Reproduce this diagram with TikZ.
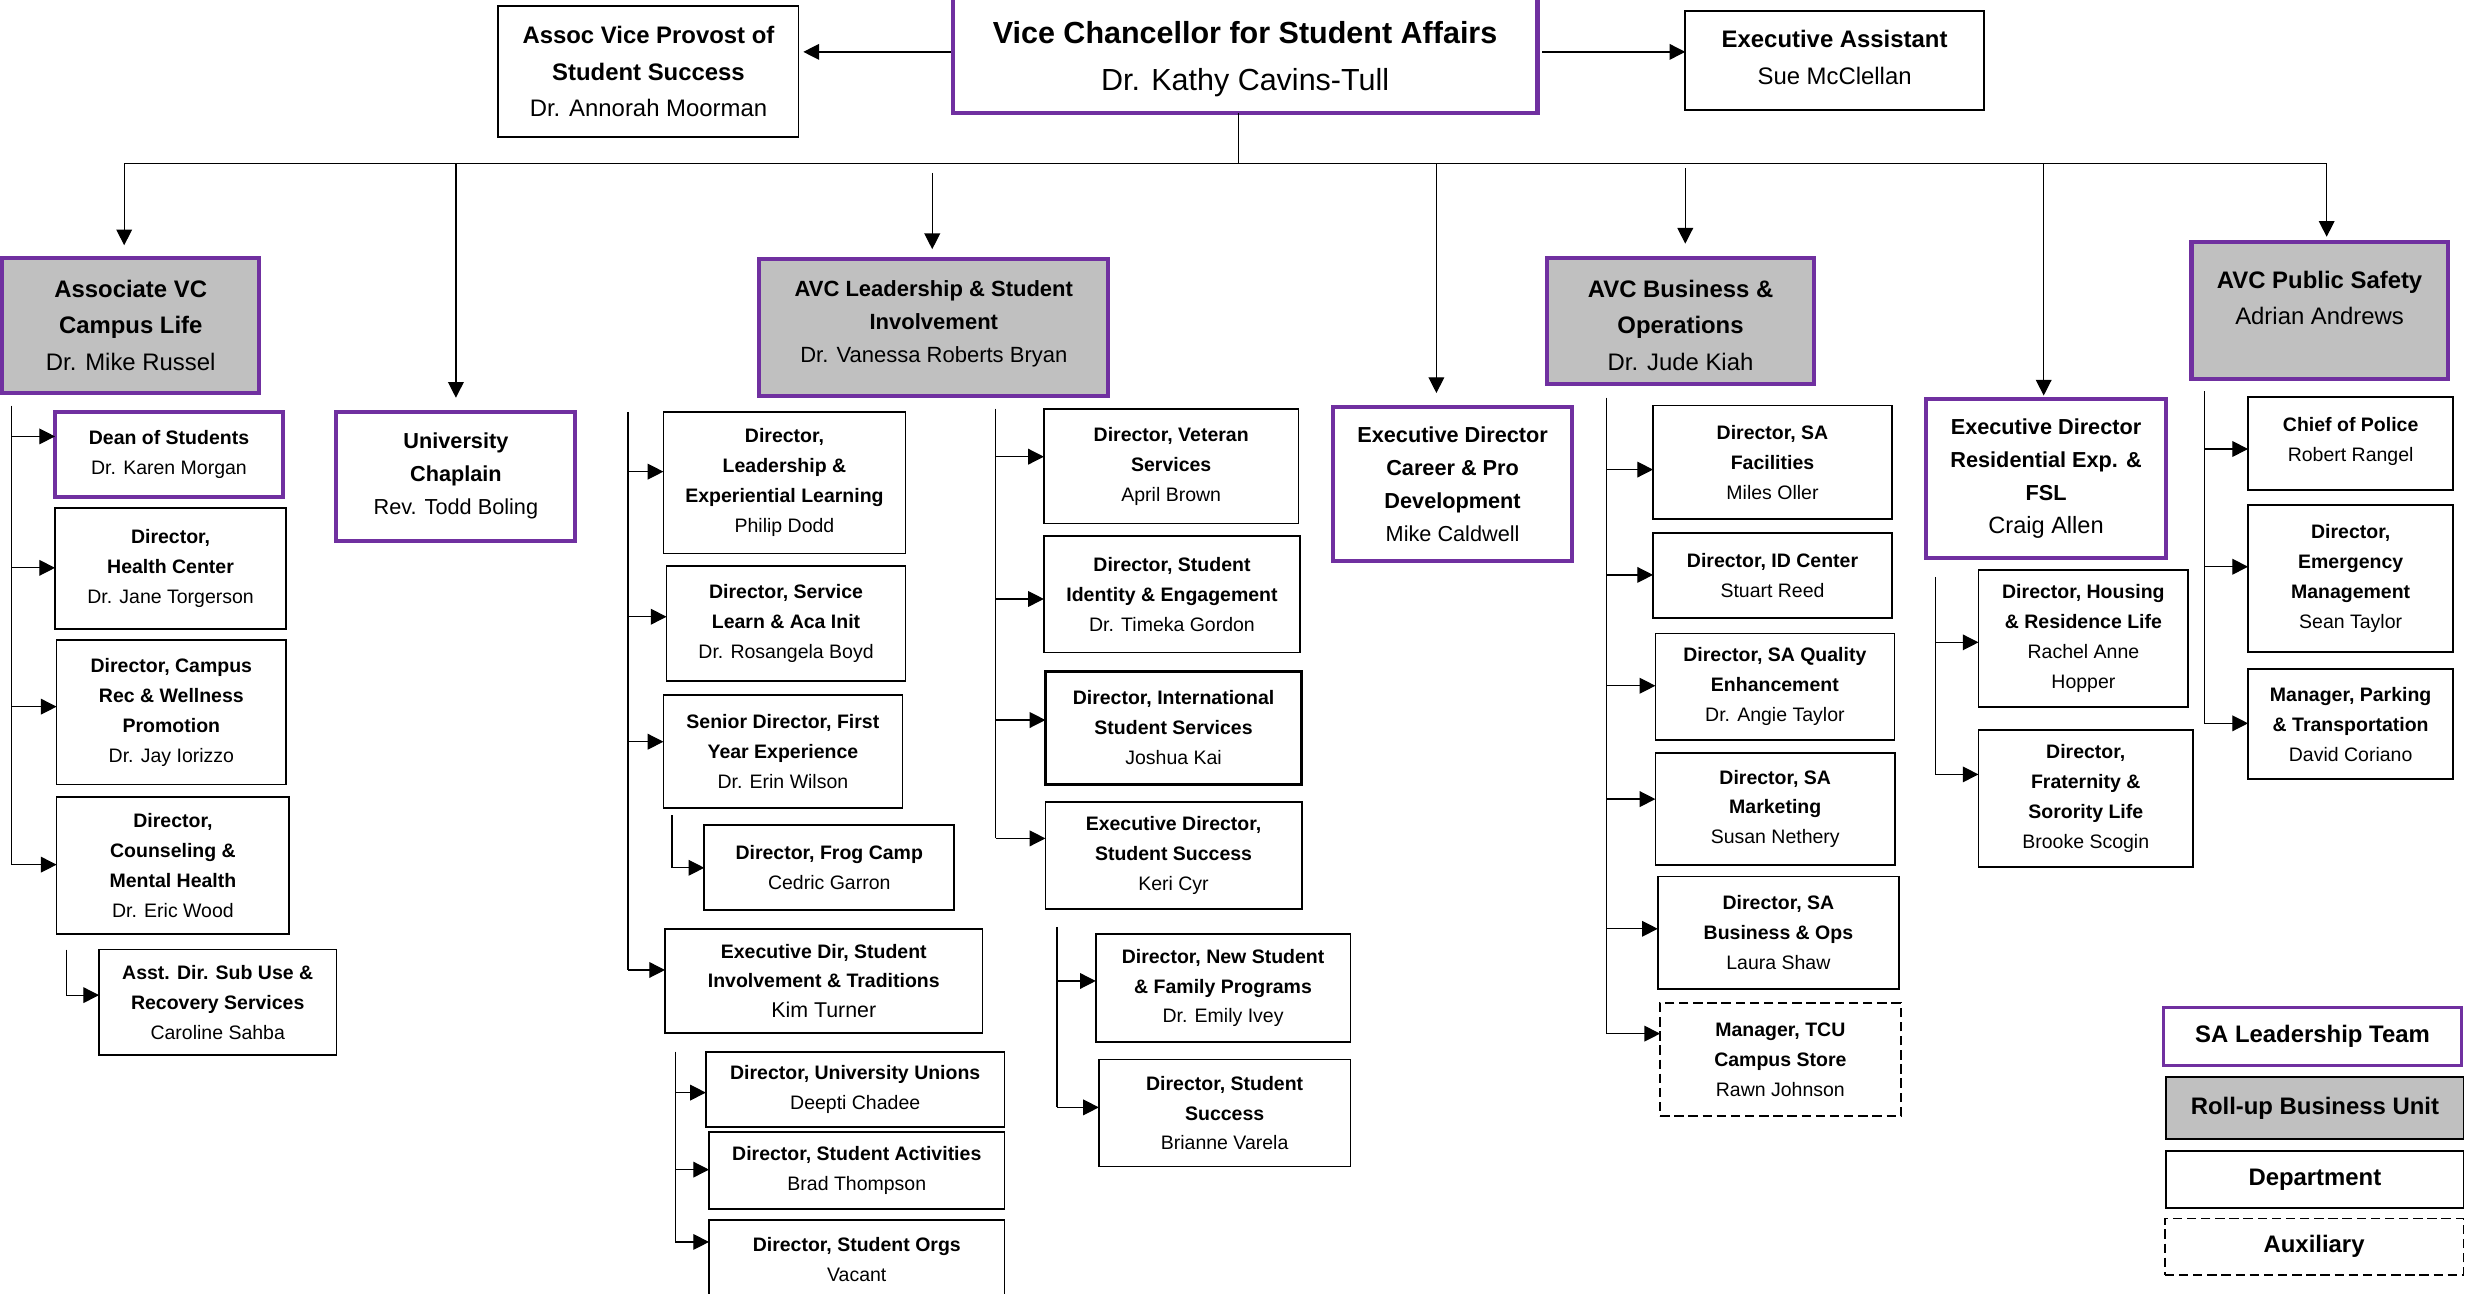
\documentclass[tikz,border=0pt]{standalone}
\usepackage{fontspec}
\setmainfont{Liberation Sans}
\usetikzlibrary{arrows.meta}
\definecolor{purp}{HTML}{7030A0}
\definecolor{rgray}{HTML}{C0C0C0}
\tikzset{
  box/.style={draw=black, line width=1.1pt, fill=white, inner sep=0pt, outer sep=0pt, align=center, text=black},
  dept/.style={box},
  lead/.style={box, draw=purp, line width=2.6pt},
  roll/.style={lead, fill=rgray},
  aux/.style={box, dash pattern=on 6pt off 3pt},
  fV/.style={font=\fontsize{19.4}{30}\selectfont},
  fA/.style={font=\fontsize{15.2}{23}\selectfont},
  fB/.style={font=\fontsize{14}{20.7}\selectfont},
  fC/.style={font=\fontsize{13.8}{21}\selectfont},
  fD/.style={font=\fontsize{12.4}{19}\selectfont},
  conn/.style={line width=0.8pt, draw=black},
  arr/.style={conn, -{Triangle[length=10pt,width=10pt]}},
}
\newcommand\bx[7]{\node[#6, minimum width={(#4)*1pt-(#2)*1pt}, minimum height={(#5)*1pt-(#3)*1pt}] (#1) at ({(#2+#4)/2},{(#3+#5)/2}) {#7};}
\newcommand\sarr[3]{\coordinate (t-#3) at (#1,#2); \draw[arr] (t-#3) -- (t-#3 -| #3.west);}
\begin{document}
\begin{tikzpicture}[x=1pt,y=-1pt]
\useasboundingbox (0,0) rectangle (1568,822.5);
\fill[white] (0,0) rectangle (1568,822.5);
% top
\bx{vc}{606}{-3}{978}{72}{lead,fV}{\rule{0pt}{20pt}\textbf{Vice Chancellor for Student Affairs}\\Dr. Kathy Cavins-Tull}
\bx{avp}{317}{4}{508}{87}{dept,fA}{\textbf{Assoc Vice Provost of}\\\textbf{Student Success}\\Dr. Annorah Moorman}
\bx{ea}{1072}{7}{1262}{70}{dept,fA}{\textbf{Executive Assistant}\\Sue McClellan\rule[-4pt]{0pt}{0pt}}
% second level
\bx{cl}{1.3}{164}{165}{250}{roll,fA}{\textbf{Associate VC}\\\textbf{Campus Life}\\Dr. Mike Russel}
\bx{lsi}{483}{165}{705}{252}{roll,fB}{\textbf{AVC Leadership \& Student}\\\textbf{Involvement}\\Dr. Vanessa Roberts Bryan\rule[-8pt]{0pt}{0pt}}
\bx{bo}{984}{164}{1154}{244}{roll,fA}{\rule{0pt}{17pt}\textbf{AVC Business \&}\\\textbf{Operations}\\Dr. Jude Kiah}
\bx{ps}{1394}{154}{1557}{241}{roll,fA}{\textbf{AVC Public Safety}\\Adrian Andrews\rule[-16pt]{0pt}{0pt}}
\bx{chap}{214}{262}{366}{344}{lead,fC}{\textbf{University}\\\textbf{Chaplain}\\Rev. Todd Boling}
\bx{car}{848}{259}{1000}{357}{lead,fC}{\textbf{Executive Director}\\\textbf{Career \& Pro}\\\textbf{Development}\\Mike Caldwell}
\bx{res}{1225}{254}{1378}{355}{lead,fC}{\textbf{Executive Director}\\\textbf{Residential Exp. \&}\\\textbf{FSL}\\{\fontsize{15}{21}\selectfont Craig Allen}}
% campus life
\bx{dean}{35}{262}{180}{316}{lead,fD,line width=2.2pt}{\textbf{Dean of Students}\\Dr. Karen Morgan}
\bx{hc}{35}{323}{182}{400}{dept,fD}{\textbf{Director,}\\\textbf{Health Center}\\Dr. Jane Torgerson}
\bx{rec}{36}{407}{182}{499}{dept,fD}{\textbf{Director, Campus}\\\textbf{Rec \& Wellness}\\\textbf{Promotion}\\Dr. Jay Iorizzo}
\bx{cmh}{36}{507}{184}{594}{dept,fD}{\textbf{Director,}\\\textbf{Counseling \&}\\\textbf{Mental Health}\\Dr. Eric Wood}
\bx{sub}{63}{604}{214}{671}{dept,fD}{\textbf{Asst. Dir. Sub Use \&}\\\textbf{Recovery Services}\\Caroline Sahba}
% leadership & student involvement
\bx{lel}{422}{262}{576}{352}{dept,fD}{\textbf{Director,}\\\textbf{Leadership \&}\\\textbf{Experiential Learning}\\Philip Dodd}
\bx{sla}{424}{360}{576}{433}{dept,fD}{\textbf{Director, Service}\\\textbf{Learn \& Aca Init}\\Dr. Rosangela Boyd}
\bx{fye}{422}{442}{574}{514}{dept,fD}{\textbf{Senior Director, First}\\\textbf{Year Experience}\\Dr. Erin Wilson}
\bx{frog}{448}{525}{607}{579}{dept,fD}{\textbf{Director, Frog Camp}\\Cedric Garron}
\bx{sit}{423}{591}{625}{657}{dept,fD}{\textbf{Executive Dir, Student}\\\textbf{Involvement \& Traditions}\\{\fontsize{13.6}{19}\selectfont Kim Turner}}
\bx{uu}{449}{669}{639}{717}{dept,fD}{\textbf{Director, University Unions}\\Deepti Chadee}
\bx{sac}{451}{720}{639}{769}{dept,fD}{\textbf{Director, Student Activities}\\Brad Thompson}
\bx{sor}{451}{776}{639}{826}{dept,fD}{\textbf{Director, Student Orgs}\\Vacant}
\bx{vet}{664}{260}{826}{333}{dept,fD}{\textbf{Director, Veteran}\\\textbf{Services}\\April Brown}
\bx{sie}{664}{341}{827}{415}{dept,fD}{\textbf{Director, Student}\\\textbf{Identity \& Engagement}\\Dr. Timeka Gordon}
\bx{iss}{665}{427}{828}{499}{dept,fD,line width=1.6pt}{\textbf{Director, International}\\\textbf{Student Services}\\Joshua Kai}
\bx{ess}{665}{510}{828}{578}{dept,fD}{\textbf{Executive Director,}\\\textbf{Student Success}\\Keri Cyr}
\bx{nsf}{697}{594}{859}{663}{dept,fD}{\textbf{Director, New Student}\\\textbf{\& Family Programs}\\Dr. Emily Ivey}
\bx{dss}{699}{674}{859}{742}{dept,fD}{\textbf{Director, Student}\\\textbf{Success}\\Brianne Varela}
% business & operations
\bx{fac}{1051.5}{258}{1203.5}{330}{dept,fD}{\textbf{Director, SA}\\\textbf{Facilities}\\Miles Oller}
\bx{idc}{1051.5}{339}{1203.5}{393}{dept,fD}{\textbf{Director, ID Center}\\Stuart Reed}
\bx{qe}{1053}{403}{1205}{470.5}{dept,fD}{\textbf{Director, SA Quality}\\\textbf{Enhancement}\\Dr. Angie Taylor}
\bx{mkt}{1053}{479}{1205.5}{550}{dept,fD}{\textbf{Director, SA}\\\textbf{Marketing}\\Susan Nethery}
\bx{bop}{1054.5}{557.5}{1208}{629}{dept,fD}{\textbf{Director, SA}\\\textbf{Business \& Ops}\\Laura Shaw}
\bx{tcu}{1056}{638}{1209}{710}{aux,fD}{\textbf{Manager, TCU}\\\textbf{Campus Store}\\Rawn Johnson}
% residential
\bx{hrl}{1258.5}{362.5}{1392}{449.5}{dept,fD}{\textbf{Director, Housing}\\\textbf{\& Residence Life}\\Rachel Anne\\Hopper}
\bx{fsl}{1258.5}{464.5}{1395}{551.3}{dept,fD}{\textbf{Director,}\\\textbf{Fraternity \&}\\\textbf{Sorority Life}\\Brooke Scogin}
% public safety
\bx{pol}{1430}{252.3}{1560.5}{311.7}{dept,fD}{\textbf{Chief of Police}\\Robert Rangel\rule[-5pt]{0pt}{0pt}}
\bx{emg}{1430}{321.2}{1560.5}{414.5}{dept,fD}{\textbf{Director,}\\\textbf{Emergency}\\\textbf{Management}\\Sean Taylor}
\bx{park}{1430}{425.6}{1560.5}{495.7}{dept,fD}{\textbf{Manager, Parking}\\\textbf{\& Transportation}\\David Coriano}
% legend
\bx{lg1}{1376}{641}{1566}{677.5}{lead,fA,line width=2pt}{\textbf{SA Leadership Team}}
\bx{lg2}{1378}{685.3}{1567}{724.7}{dept,fA,fill=rgray}{\textbf{Roll-up Business Unit}}
\bx{lg3}{1378}{732}{1567}{768.6}{dept,fA}{\textbf{Department}}
\bx{lg4}{1377}{775}{1567}{811}{aux,fA}{\textbf{Auxiliary}}
% top connectors
\draw[arr, shorten <=1pt, shorten >=3pt] ([yshift=1.5pt]vc.west) -- ([yshift=1.5pt]vc.west -| avp.east);
\draw[arr, shorten <=3pt] ([yshift=1.5pt]vc.east) -- ([yshift=1.5pt]vc.east -| ea.west);
\coordinate (busL) at (79,104);
\coordinate (busR) at (1480,104);
\draw[conn] ([xshift=-4pt]vc.south) -- ([xshift=-4pt]vc.south |- busL);
\draw[conn] (busL) -- (busR);
\draw[arr, shorten >=8pt] (busL) -- (cl.north -| busL);
\draw[arr, shorten >=9pt] (busL -| chap.north) -- (chap.north);
\coordinate (lsiTop) at (593,110);
\draw[arr, shorten >=6.5pt] (lsiTop) -- (lsiTop |- lsi.north);
\coordinate (carTop) at (913.7,104);
\draw[arr, shorten >=9pt] (carTop) -- (carTop |- car.north);
\coordinate (boTop) at (1072,107);
\draw[arr, shorten >=9pt] (boTop) -- (boTop |- bo.north);
\coordinate (resTop) at (1300,104);
\draw[arr, shorten >=2.4pt] (resTop) -- (resTop |- res.north);
\draw[arr, shorten >=3.4pt] (busR) -- (busR |- ps.north);
% campus life trunk
\coordinate (clA) at (7.5,258); \coordinate (clB) at (7.5,550);
\draw[conn] (clA) -- (clB);
\sarr{7.5}{277.6}{dean}
\sarr{7.5}{361.2}{hc}
\sarr{7.5}{449.5}{rec}
\sarr{7.5}{550}{cmh}
\coordinate (subA) at (42.3,604); \draw[conn] (subA) -- (42.3,633);
\sarr{42.3}{633}{sub}
% leadership trunks
\coordinate (lA) at (399.5,262); \coordinate (lB) at (399.5,617);
\draw[conn] (lA) -- (lB);
\sarr{399.5}{300}{lel}
\sarr{399.5}{392.3}{sla}
\sarr{399.5}{471.8}{fye}
\sarr{399.5}{617}{sit}
\coordinate (fA) at (427.5,518.5); \draw[conn] (fA) -- (427.5,552);
\sarr{427.5}{552}{frog}
\coordinate (sA) at (429.6,669); \draw[conn] (sA) -- (429.6,790);
\sarr{429.6}{695}{uu}
\sarr{429.6}{744}{sac}
\sarr{429.6}{790}{sor}
\coordinate (rA) at (633.3,260); \draw[conn] (rA) -- (633.3,533.3);
\sarr{633.3}{290.5}{vet}
\sarr{633.3}{381}{sie}
\sarr{633.3}{458}{iss}
\sarr{633.3}{533.3}{ess}
\coordinate (nA) at (672.3,589.5); \draw[conn] (nA) -- (672.3,704.4);
\sarr{672.3}{624}{nsf}
\sarr{672.3}{704.4}{dss}
% business trunk
\coordinate (bA) at (1022,253); \draw[conn] (bA) -- (1022,657.5);
\sarr{1022}{298.7}{fac}
\sarr{1022}{365.7}{idc}
\sarr{1022}{436.2}{qe}
\sarr{1022}{508.3}{mkt}
\sarr{1022}{590.8}{bop}
\sarr{1022}{657.5}{tcu}
% residential trunk
\coordinate (hA) at (1231,367); \draw[conn] (hA) -- (1231,492.6);
\sarr{1231}{408.6}{hrl}
\sarr{1231}{492.6}{fsl}
% public safety trunk
\coordinate (pA) at (1402.4,249); \draw[conn] (pA) -- (1402.4,460.8);
\sarr{1402.4}{285.6}{pol}
\sarr{1402.4}{360.5}{emg}
\sarr{1402.4}{460.1}{park}
\end{tikzpicture}
\end{document}
